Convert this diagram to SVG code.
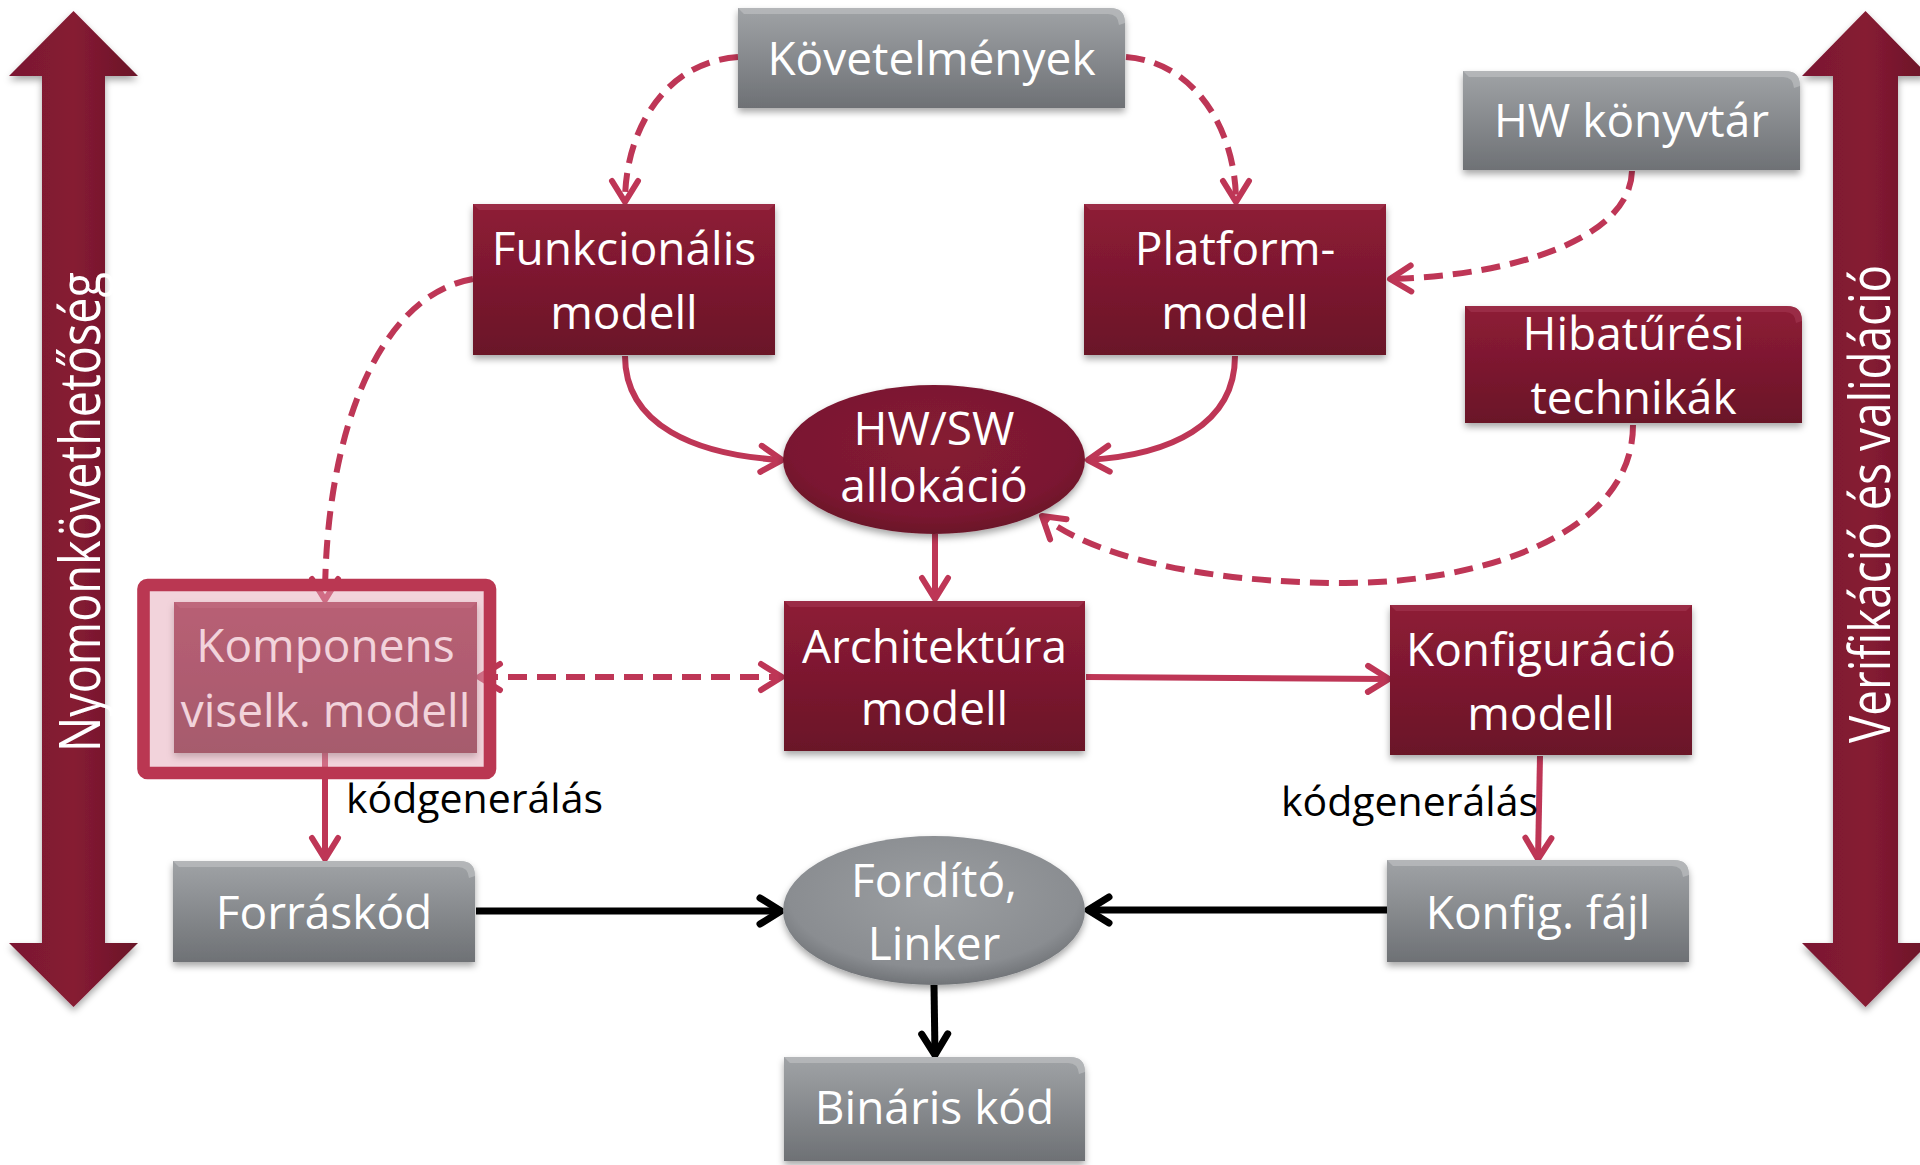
<svg xmlns="http://www.w3.org/2000/svg" width="1920" height="1165" viewBox="0 0 1920 1165">
<defs>
<style>
.t{font-family:"Segoe UI","Open Sans","Liberation Sans",sans-serif;font-size:46px;fill:#fff;text-anchor:middle}
.lbl{font-family:"Segoe UI","Open Sans","Liberation Sans",sans-serif;font-size:41px;fill:#000}
.vt{font-family:"Segoe UI","Open Sans","Liberation Sans",sans-serif;font-size:57px;fill:#fff;text-anchor:middle}
.red{fill:url(#gRed);filter:url(#sh)}
.gray{fill:url(#gGray);filter:url(#sh)}
.bevR{fill:#A63A54;opacity:.55}
.bevG{fill:#C4C6C8;opacity:.55}
.c{fill:none;stroke:#BE3656;stroke-width:6}
.d{stroke-dasharray:19 10}
.k{fill:none;stroke:#000;stroke-width:7}
</style>
<linearGradient id="gRed" x1="0" y1="0" x2="0" y2="1"><stop offset="0" stop-color="#8E1C36"/><stop offset="1" stop-color="#6A1428"/></linearGradient>
<linearGradient id="gGray" x1="0" y1="0" x2="0" y2="1"><stop offset="0" stop-color="#A0A3A6"/><stop offset="1" stop-color="#6E7175"/></linearGradient>
<linearGradient id="gBig" x1="0" y1="0" x2="1" y2="0"><stop offset="0" stop-color="#7A1830"/><stop offset=".5" stop-color="#861B33"/><stop offset="1" stop-color="#6A1428"/></linearGradient>
<radialGradient id="gEllR" cx=".5" cy=".4" r=".6"><stop offset="0" stop-color="#861B33"/><stop offset=".8" stop-color="#7A1830"/><stop offset="1" stop-color="#6A1428"/></radialGradient>
<radialGradient id="gEllG" cx=".5" cy=".4" r=".6"><stop offset="0" stop-color="#9B9EA1"/><stop offset=".8" stop-color="#8A8D91"/><stop offset="1" stop-color="#707377"/></radialGradient>
<filter id="sh" x="-10%" y="-10%" width="120%" height="130%"><feDropShadow dx="0" dy="4" stdDeviation="3.5" flood-color="#000" flood-opacity=".35"/></filter>
<marker id="ar" viewBox="-28 -17 32 34" refX="0" refY="0" markerWidth="32" markerHeight="34" markerUnits="userSpaceOnUse" orient="auto-start-reverse"><path d="M-21,-13 L0,0 L-21,13" fill="none" stroke="#BE3656" stroke-width="6" stroke-linecap="round" stroke-linejoin="round"/></marker>
<marker id="ak" viewBox="-28 -17 32 34" refX="0" refY="0" markerWidth="32" markerHeight="34" markerUnits="userSpaceOnUse" orient="auto"><path d="M-21,-13 L0,0 L-21,13" fill="none" stroke="#000" stroke-width="7" stroke-linecap="round" stroke-linejoin="round"/></marker>
</defs>
<rect width="1920" height="1165" fill="#fff"/>

<g id="arrow-left">
<polygon points="73.5,11 138,76 105,76 105,943 138,943 73.5,1007 9,943 42,943 42,76 9,76" fill="url(#gBig)" filter="url(#sh)"/>
<text class="vt" transform="translate(100,512) rotate(-90)" textLength="480" lengthAdjust="spacingAndGlyphs">Nyomonkövethetőség</text>
</g>
<g id="arrow-right">
<polygon points="1865.5,11 1929,76 1898,76 1898,943 1929,943 1865.5,1007 1802,943 1833,943 1833,76 1802,76" fill="url(#gBig)" filter="url(#sh)"/>
<text class="vt" transform="translate(1890,504) rotate(-90)" textLength="478" lengthAdjust="spacingAndGlyphs">Verifikáció és validáció</text>
</g>

<g id="connectors">
<path class="c d" d="M738,57 C665,62 625,130 625,202" marker-end="url(#ar)"/>
<path class="c d" d="M1126,57 C1195,62 1236,130 1236,202" marker-end="url(#ar)"/>
<path class="c d" d="M1632,171 C1630,240 1510,276 1390,279" marker-end="url(#ar)"/>
<path class="c d" d="M473,279 C380,295 325,430 325,600" marker-end="url(#ar)"/>
<path class="c" d="M625,356 C625,425 695,455 782,460" marker-end="url(#ar)"/>
<path class="c" d="M1235,356 C1235,425 1170,455 1088,460" marker-end="url(#ar)"/>
<path class="c d" d="M1633,425 C1633,535 1480,583 1345,583 C1200,583 1090,555 1042,516" marker-end="url(#ar)"/>
<path class="c" d="M935,534 L935,599" marker-end="url(#ar)"/>
<path class="c d" d="M479,677 L782,677" marker-start="url(#ar)" marker-end="url(#ar)"/>
<path class="c" d="M1086,677 L1389,679" marker-end="url(#ar)"/>
<path class="c" d="M1540,756 L1538,859" marker-end="url(#ar)"/>
<path class="c" d="M325,753 L325,859" marker-end="url(#ar)"/>
<path class="k" d="M476,911 L781,911" marker-end="url(#ak)"/>
<path class="k" d="M1387,910 L1088,910" marker-end="url(#ak)"/>
<path class="k" d="M934,985 L935,1055" marker-end="url(#ak)"/>
</g>

<g id="kovetelmenyek">
<path class="gray" d="M738,8 H1110 Q1125,8 1125,23 V108 H738 Z"/>
<path class="bevG" d="M738,8 H1110 Q1125,8 1125,23 L1119,25 Q1118,14 1108,14 H744 Z"/>
<text class="t" x="931.5" y="75">Követelmények</text>
</g>
<g id="hw-konyvtar">
<path class="gray" d="M1463,71 H1785 Q1800,71 1800,86 V170 H1463 Z"/>
<path class="bevG" d="M1463,71 H1785 Q1800,71 1800,86 L1794,88 Q1793,77 1783,77 H1469 Z"/>
<text class="t" x="1631.5" y="137">HW könyvtár</text>
</g>
<g id="funkcionalis">
<rect class="red" x="473" y="204" width="302" height="151"/>
<polygon class="bevR" points="473,204 775,204 769,210 479,210"/>
<text class="t" x="624" y="265">Funkcionális</text>
<text class="t" x="624" y="329">modell</text>
</g>
<g id="platform">
<rect class="red" x="1084" y="204" width="302" height="151"/>
<polygon class="bevR" points="1084,204 1386,204 1380,210 1090,210"/>
<text class="t" x="1235" y="265">Platform-</text>
<text class="t" x="1235" y="329">modell</text>
</g>
<g id="hibatures">
<path class="red" d="M1465,306 H1787 Q1802,306 1802,321 V423 H1465 Z"/>
<path class="bevR" d="M1465,306 H1787 Q1802,306 1802,321 L1796,323 Q1795,312 1785,312 H1471 Z"/>
<text class="t" x="1633.5" y="350">Hibatűrési</text>
<text class="t" x="1633.5" y="414">technikák</text>
</g>
<g id="hwsw">
<ellipse cx="934" cy="459.5" rx="151" ry="74.5" fill="url(#gEllR)" filter="url(#sh)"/>
<text class="t" x="934" y="445">HW/SW</text>
<text class="t" x="934" y="502">allokáció</text>
</g>
<g id="komponens">
<rect class="red" x="174" y="602" width="303" height="151"/>
<polygon class="bevR" points="174,602 477,602 471,608 180,608"/>
<text class="t" x="325.5" y="662">Komponens</text>
<text class="t" x="325.5" y="727">viselk. modell</text>
<rect x="143.5" y="585" width="346.5" height="188" rx="4" fill="#E5A6B5" fill-opacity=".49"/>
<rect x="143.5" y="585" width="346.5" height="188" rx="4" fill="none" stroke="#BA3752" stroke-width="12.6"/>
</g>
<g id="architektura">
<rect class="red" x="784" y="601" width="301" height="150"/>
<polygon class="bevR" points="784,601 1085,601 1079,607 790,607"/>
<text class="t" x="934.5" y="663">Architektúra</text>
<text class="t" x="934.5" y="725">modell</text>
</g>
<g id="konfiguracio">
<rect class="red" x="1390" y="605" width="302" height="150"/>
<polygon class="bevR" points="1390,605 1692,605 1686,611 1396,611"/>
<text class="t" x="1541" y="666">Konfiguráció</text>
<text class="t" x="1541" y="730">modell</text>
</g>
<text class="lbl" x="346" y="813">kódgenerálás</text>
<text class="lbl" x="1281" y="816">kódgenerálás</text>
<g id="forraskod">
<path class="gray" d="M173,861 H460 Q475,861 475,876 V962 H173 Z"/>
<path class="bevG" d="M173,861 H460 Q475,861 475,876 L469,878 Q468,867 458,867 H179 Z"/>
<text class="t" x="324" y="929">Forráskód</text>
</g>
<g id="fordito">
<ellipse cx="934" cy="910.5" rx="151" ry="74.5" fill="url(#gEllG)" filter="url(#sh)"/>
<text class="t" x="934" y="897">Fordító,</text>
<text class="t" x="934" y="960">Linker</text>
</g>
<g id="konfig-fajl">
<path class="gray" d="M1387,860 H1674 Q1689,860 1689,875 V962 H1387 Z"/>
<path class="bevG" d="M1387,860 H1674 Q1689,860 1689,875 L1683,877 Q1682,866 1672,866 H1393 Z"/>
<text class="t" x="1538" y="929">Konfig. fájl</text>
</g>
<g id="binaris">
<path class="gray" d="M784,1057 H1070 Q1085,1057 1085,1072 V1161 H784 Z"/>
<path class="bevG" d="M784,1057 H1070 Q1085,1057 1085,1072 L1079,1074 Q1078,1063 1068,1063 H790 Z"/>
<text class="t" x="934.5" y="1124">Bináris kód</text>
</g>
</svg>
